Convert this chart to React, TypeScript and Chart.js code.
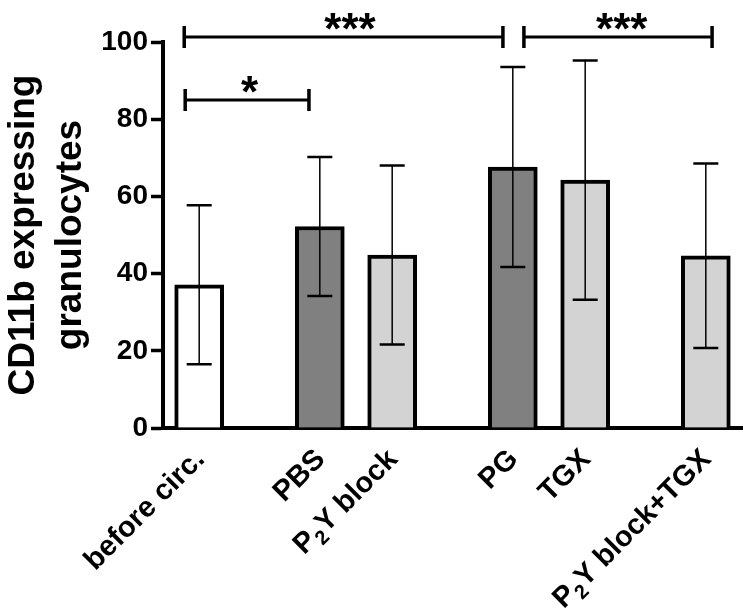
import React, { useEffect, useRef } from "react";
import { Chart, registerables } from "chart.js";

Chart.register(...registerables);

// ---- data ----
const categories = ["before circ.", "PBS", "P₂Y block", "PG", "TGX", "P₂Y block+TGX"];
const means = [37.1, 52.2, 44.8, 67.6, 64.2, 44.6];
const sds = [20.6, 18.0, 23.2, 25.9, 31.0, 23.9];
const barColors = ["#ffffff", "#808080", "#d3d3d3", "#808080", "#d3d3d3", "#d3d3d3"];
const yTickValues = [0, 20, 40, 60, 80, 100];
const yTitleLines = ["CD11b expressing", "granulocytes"];
const bracketFrom = ["before circ.", "before circ.", "PG"];
const bracketTo = ["PG", "PBS", "P₂Y block+TGX"];
const bracketLevels = [101.3, 85.0, 101.3];
const bracketLabels = ["***", "*", "***"];

// ---- layout (slot positions along the category axis) ----
const SLOT_COUNT = 24;
const SLOTS = [1, 6, 9, 14, 17, 22];
const BRACKET_SHIFT = [
  [-0.62, -0.41],
  [-0.58, -0.45],
  [0.46, 0.26],
];

const FONT = "'Liberation Sans', 'DejaVu Sans', Arial, sans-serif";
const LABEL_SIZE = 29;
const SUB_SIZE = 20;

const slotLabels: string[] = Array.from({ length: SLOT_COUNT }, () => "");
const slotData: (number | null)[] = Array.from({ length: SLOT_COUNT }, () => null);
const slotColors: string[] = Array.from({ length: SLOT_COUNT }, () => "#ffffff");
categories.forEach((c, i) => {
  slotLabels[SLOTS[i]] = c;
  slotData[SLOTS[i]] = means[i];
  slotColors[SLOTS[i]] = barColors[i];
});

const errorBarPlugin = {
  id: "errorBars",
  afterDatasetsDraw(chart: any) {
    const xs = chart.scales.x;
    const ys = chart.scales.y;
    const ctx = chart.ctx;
    ctx.save();
    ctx.strokeStyle = "#000";
    categories.forEach((_c, i) => {
      const x = xs.getPixelForValue(SLOTS[i]);
      const top = ys.getPixelForValue(means[i] + sds[i]);
      const bot = ys.getPixelForValue(means[i] - sds[i]);
      ctx.lineWidth = 1.5;
      ctx.beginPath();
      ctx.moveTo(x, top);
      ctx.lineTo(x, bot);
      ctx.stroke();
      const cw = 12.5;
      ctx.lineWidth = 2.5;
      ctx.beginPath();
      ctx.moveTo(x - cw, top);
      ctx.lineTo(x + cw, top);
      ctx.moveTo(x - cw, bot);
      ctx.lineTo(x + cw, bot);
      ctx.stroke();
    });
    ctx.restore();
  },
};

const bracketPlugin = {
  id: "brackets",
  afterDraw(chart: any) {
    const xs = chart.scales.x;
    const ys = chart.scales.y;
    const ctx = chart.ctx;
    const slotW = xs.getPixelForValue(1) - xs.getPixelForValue(0);
    ctx.save();
    ctx.strokeStyle = "#000";
    ctx.fillStyle = "#000";
    bracketLabels.forEach((label, i) => {
      const a = SLOTS[categories.indexOf(bracketFrom[i])];
      const b = SLOTS[categories.indexOf(bracketTo[i])];
      const x1 = xs.getPixelForValue(a) + BRACKET_SHIFT[i][0] * slotW;
      const x2 = xs.getPixelForValue(b) + BRACKET_SHIFT[i][1] * slotW;
      const y = ys.getPixelForValue(bracketLevels[i]);
      ctx.lineWidth = 3;
      ctx.beginPath();
      ctx.moveTo(x1, y);
      ctx.lineTo(x2, y);
      ctx.stroke();
      ctx.lineWidth = 3.5;
      ctx.beginPath();
      ctx.moveTo(x1, y - 11);
      ctx.lineTo(x1, y + 11);
      ctx.moveTo(x2, y - 11);
      ctx.lineTo(x2, y + 11);
      ctx.stroke();
      ctx.font = `bold 44px ${FONT}`;
      ctx.textAlign = "center";
      ctx.textBaseline = "alphabetic";
      ctx.fillText(label, x1 + (x2 - x1) * 0.52, y + 7);
    });
    ctx.restore();
  },
};

// Rotated category labels with a true subscript "2"
const labelPlugin = {
  id: "subLabels",
  afterDraw(chart: any) {
    const xs = chart.scales.x;
    const ctx = chart.ctx;
    const mainFont = `bold ${LABEL_SIZE}px ${FONT}`;
    const subFont = `bold ${SUB_SIZE}px ${FONT}`;
    ctx.save();
    ctx.fillStyle = "#000";
    ctx.textBaseline = "middle";
    ctx.textAlign = "left";
    categories.forEach((label, i) => {
      const segs = label
        .split(/(₂)/)
        .filter((s) => s.length > 0)
        .map((s) => (s === "₂" ? { t: "2", sub: true } : { t: s, sub: false }));
      let total = 0;
      const widths = segs.map((s) => {
        ctx.font = s.sub ? subFont : mainFont;
        const w = ctx.measureText(s.t).width;
        total += w;
        return w;
      });
      const ax = xs.getPixelForValue(SLOTS[i]) + 1;
      const ay = xs.top + 27;
      ctx.save();
      ctx.translate(ax, ay);
      ctx.rotate(-Math.PI / 4);
      let x = -total;
      segs.forEach((s, k) => {
        ctx.font = s.sub ? subFont : mainFont;
        ctx.fillText(s.t, x, s.sub ? 9 : 0);
        x += widths[k];
      });
      ctx.restore();
    });
    ctx.restore();
  },
};

export default function App() {
  const ref = useRef<HTMLCanvasElement | null>(null);

  useEffect(() => {
    if (!ref.current) return;
    Chart.defaults.font.family = FONT;
    const chart = new Chart(ref.current, {
      type: "bar",
      data: {
        labels: slotLabels,
        datasets: [
          {
            data: slotData,
            backgroundColor: slotColors,
            borderColor: "#000",
            borderWidth: 4,
            barThickness: 49,
          },
        ],
      },
      options: {
        animation: false,
        responsive: false,
        devicePixelRatio: 1,
        layout: { padding: { top: 42, right: 9, left: 0, bottom: 0 } },
        plugins: {
          legend: { display: false },
          tooltip: { enabled: false },
        },
        scales: {
          x: {
            type: "category",
            grid: { display: false, drawTicks: false },
            border: { display: true, width: 4, color: "#000" },
            ticks: { display: false, autoSkip: false },
            afterFit: (s: any) => {
              s.height = 188;
              s.paddingLeft = 0;
              s.paddingRight = 0;
            },
          },
          y: {
            min: 0,
            max: 100,
            afterBuildTicks: (s: any) => {
              s.ticks = yTickValues.map((v) => ({ value: v }));
            },
            grid: {
              display: true,
              drawOnChartArea: false,
              drawTicks: true,
              tickLength: 12,
              tickWidth: 3.5,
              tickColor: "#000",
              color: "#000",
            },
            border: { display: true, width: 4, color: "#000" },
            ticks: {
              padding: 3,
              color: "#000",
              font: { size: 28, weight: "bold", family: FONT },
            },
            title: {
              display: true,
              text: yTitleLines,
              color: "#000",
              padding: { top: 0, bottom: 0 },
              font: { size: 37, weight: "bold", family: FONT, lineHeight: 1.27 },
            },
            afterFit: (s: any) => {
              s.width = 163;
              s.paddingTop = 0;
              s.paddingBottom = 0;
            },
          },
        },
      },
      plugins: [errorBarPlugin, bracketPlugin, labelPlugin],
    });
    return () => chart.destroy();
  }, []);

  return (
    <div style={{ position: "absolute", left: 0, top: 0, width: 751, height: 616, background: "#fff" }}>
      <canvas ref={ref} width={751} height={616} />
    </div>
  );
}
